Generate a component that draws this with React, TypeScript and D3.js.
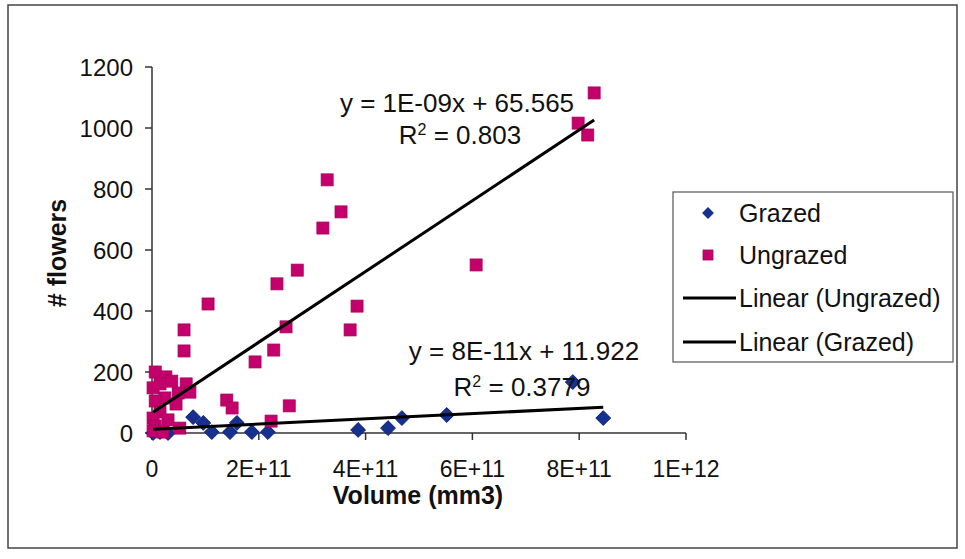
import React from "react";
import * as d3 from "d3";

// ---- data ----
const grazedVolume = [2e9, 1.5e10, 3e10, 7.7e10, 9.6e10, 1.12e11, 1.46e11, 1.59e11, 1.87e11, 2.17e11, 3.86e11, 4.42e11, 4.68e11, 5.52e11, 7.88e11, 8.45e11];
const grazedFlowers = [0, 3, 0, 52, 33, 3, 3, 33, 3, 3, 10, 16, 49, 59, 167, 49];

const ungrazedVolume = [
  8.28e11, 7.98e11, 8.16e11, 3.28e11, 3.54e11, 3.2e11, 6.07e11, 2.72e11, 2.34e11, 1.05e11,
  3.84e11, 3.71e11, 2.51e11, 6.0e10, 6.0e10, 2.28e11, 1.93e11, 1.4e11, 1.5e11, 2.57e11, 2.23e11,
  6e9, 2.6e10, 2e9, 1.5e10, 3.7e10, 6.4e10, 7.1e10, 4.9e10, 2.4e10, 6e9, 4.5e10, 1.5e10, 2e9,
  3e10, 6e9, 5.2e10, 2e9, 2e10,
];
const ungrazedFlowers = [
  1115, 1016, 977, 830, 725, 672, 551, 534, 489, 423,
  416, 338, 348, 338, 269, 272, 233, 108, 82, 89, 39,
  200, 184, 148, 161, 170, 161, 134, 131, 115, 105, 95, 69, 49,
  43, 23, 16, 7, 3,
];

// trendline coefficients [slope, intercept]
const ungrazedTrend = [1.16e-9, 65.565];
const grazedTrend = [8.6e-11, 11.922];

const xTickValues = [0, 2e11, 4e11, 6e11, 8e11, 1e12];
const xTickLabels = ["0", "2E+11", "4E+11", "6E+11", "8E+11", "1E+12"];
const yTickValues = [0, 200, 400, 600, 800, 1000, 1200];

const legendLabels = ["Grazed", "Ungrazed", "Linear (Ungrazed)", "Linear (Grazed)"];

const GRAZED_COLOR = "#16308f";
const UNGRAZED_COLOR = "#c4006c";
const FONT = "Arial, 'Liberation Sans', Helvetica, sans-serif";

export default function App() {
  const W = 965, H = 559;
  const x = d3.scaleLinear().domain([0, 1e12]).range([152, 686]);
  const y = d3.scaleLinear().domain([0, 1200]).range([433, 67]);

  const trendLine = (coef: number[], xs: number[]) => {
    const [mn, mx] = d3.extent(xs) as [number, number];
    const line = d3.line<number>().x((v) => x(v)).y((v) => y(coef[0] * v + coef[1]));
    return line([mn, mx]) || "";
  };

  const diamond = d3.symbol().type(d3.symbolDiamond2).size(140)() || "";
  const square = (cx: number, cy: number, s: number) => (
    <rect x={cx - s / 2} y={cy - s / 2} width={s} height={s} fill={UNGRAZED_COLOR} stroke="#a8005a" strokeWidth={0.8} />
  );

  const legendRows = [213, 255, 298, 342];

  return (
    <svg width={W} height={H} style={{ position: "absolute", left: 0, top: 0, background: "#fff" }} fontFamily={FONT}>
      <rect x={0} y={0} width={W} height={H} fill="#fff" />
      {/* outer frame */}
      <rect x={8} y={5} width={949} height={543} fill="none" stroke="#444" strokeWidth={1.5} />

      {/* axes */}
      <line x1={x(0)} x2={x(0)} y1={y(1200)} y2={y(0)} stroke="#333" strokeWidth={1.5} />
      <line x1={x(0)} x2={x(1e12)} y1={y(0)} y2={y(0)} stroke="#333" strokeWidth={1.5} />
      {yTickValues.map((v) => (
        <g key={"yt" + v}>
          <line x1={x(0) - 7} x2={x(0)} y1={y(v)} y2={y(v)} stroke="#333" strokeWidth={1.5} />
          <text x={133} y={y(v) + 8.5} textAnchor="end" fontSize={24} fill="#111">{v}</text>
        </g>
      ))}
      {xTickValues.map((v, i) => (
        <g key={"xt" + v}>
          <line x1={x(v)} x2={x(v)} y1={y(0)} y2={y(0) + 7} stroke="#333" strokeWidth={1.5} />
          <text x={x(v)} y={477} textAnchor="middle" fontSize={23} fill="#111">{xTickLabels[i]}</text>
        </g>
      ))}

      {/* axis titles */}
      <text x={418} y={504} textAnchor="middle" fontSize={25} fontWeight="bold" fill="#111">Volume (mm3)</text>
      <text transform="translate(66,253) rotate(-90)" textAnchor="middle" fontSize={25} fontWeight="bold" fill="#111"># flowers</text>

      {/* grazed points */}
      {grazedVolume.map((v, i) => (
        <path key={"g" + i} d={diamond} transform={`translate(${x(v)},${y(grazedFlowers[i])})`} fill={GRAZED_COLOR} stroke="#0b1f70" strokeWidth={1} />
      ))}
      {/* ungrazed points */}
      {ungrazedVolume.map((v, i) => (
        <g key={"u" + i}>{square(x(v), y(ungrazedFlowers[i]), 12)}</g>
      ))}

      {/* trendlines */}
      <path d={trendLine(ungrazedTrend, ungrazedVolume)} stroke="#000" strokeWidth={3} fill="none" />
      <path d={trendLine(grazedTrend, grazedVolume)} stroke="#000" strokeWidth={3} fill="none" />

      {/* equations */}
      <text x={457} y={112} textAnchor="middle" fontSize={26} fill="#111">y = 1E-09x + 65.565</text>
      <text x={460} y={144} textAnchor="middle" fontSize={26} fill="#111">
        R<tspan dy={-9} fontSize={16}>2</tspan><tspan dy={9}> = 0.803</tspan>
      </text>
      <text x={524} y={360} textAnchor="middle" fontSize={26} fill="#111">y = 8E-11x + 11.922</text>
      <text x={522} y={396} textAnchor="middle" fontSize={26} fill="#111">
        R<tspan dy={-9} fontSize={16}>2</tspan><tspan dy={9}> = 0.3779</tspan>
      </text>

      {/* legend */}
      <rect x={673} y={192} width={280} height={170} fill="#fff" stroke="#555" strokeWidth={1.2} />
      <path d={d3.symbol().type(d3.symbolDiamond2).size(90)() || ""} transform={`translate(708,${legendRows[0]})`} fill={GRAZED_COLOR} />
      {square(708, legendRows[1], 10)}
      <line x1={683} x2={736} y1={legendRows[2]} y2={legendRows[2]} stroke="#000" strokeWidth={3} />
      <line x1={683} x2={736} y1={legendRows[3]} y2={legendRows[3]} stroke="#000" strokeWidth={3} />
      {legendLabels.map((t, i) => (
        <text key={t} x={739} y={legendRows[i] + 9} fontSize={25} fill="#111">{t}</text>
      ))}
    </svg>
  );
}
